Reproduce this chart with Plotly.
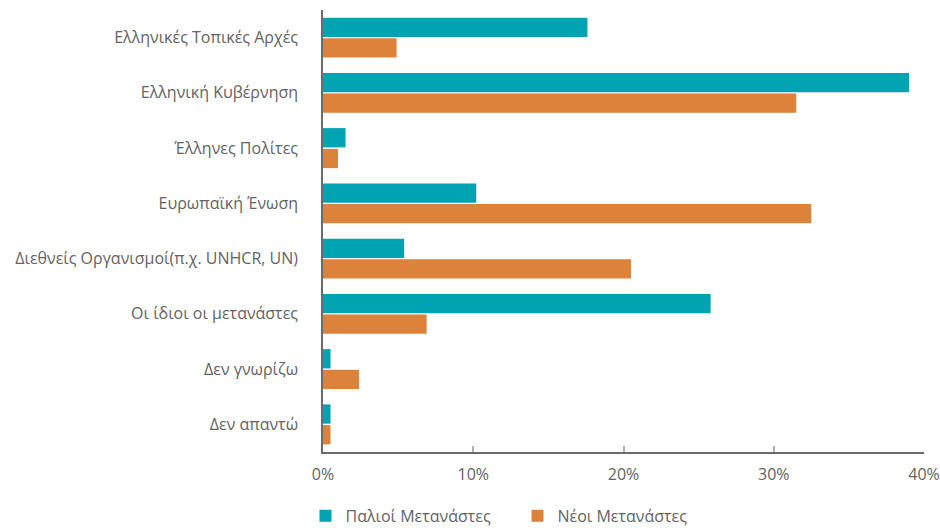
import plotly.graph_objects as go

categories = [
    "Ελληνικές Τοπικές Αρχές",
    "Ελληνική Κυβέρνηση",
    "Έλληνες Πολίτες",
    "Ευρωπαϊκή Ένωση",
    "Διεθνείς Οργανισμοί(π.χ. UNHCR, UN)",
    "Οι ίδιοι οι μετανάστες",
    "Δεν γνωρίζω",
    "Δεν απαντώ",
]
old_migrants = [17.6, 39.0, 1.5, 10.2, 5.4, 25.8, 0.5, 0.5]
new_migrants = [4.9, 31.5, 1.0, 32.5, 20.5, 6.9, 2.4, 0.5]
series_names = ["Παλιοί Μετανάστες", "Νέοι Μετανάστες"]
x_ticks = [0, 10, 20, 30, 40]
x_tick_labels = ["0%", "10%", "20%", "30%", "40%"]

TEAL = "#00A3B1"
ORANGE = "#DD823B"
TEXT = "#636363"
FONT = "Open Sans"

fig = go.Figure()
fig.add_trace(go.Bar(y=categories, x=old_migrants, name=series_names[0],
                     orientation="h", marker=dict(color=TEAL, line=dict(width=0))))
fig.add_trace(go.Bar(y=categories, x=new_migrants, name=series_names[1],
                     orientation="h", marker=dict(color=ORANGE, line=dict(width=0))))

fig.update_layout(
    width=940, height=528,
    margin=dict(l=323, r=16, t=10, b=76, autoexpand=False),
    paper_bgcolor="white", plot_bgcolor="white",
    font=dict(family=FONT, size=16, color=TEXT),
    barmode="group", bargap=0.25, bargroupgap=0.07,
    showlegend=True,
    legend=dict(orientation="h", xref="container", yref="container",
                x=0.325, y=0.055, xanchor="left", yanchor="top",
                font=dict(family=FONT, size=16, color=TEXT),
                entrywidth=167, entrywidthmode="pixels",
                traceorder="normal"),
)
fig.update_xaxes(
    range=[0, 40], tickvals=x_ticks, ticktext=x_tick_labels,
    showgrid=False, zeroline=False, automargin=False,
    showline=True, linecolor="#6b6b6b", linewidth=1.5,
    ticks="inside", ticklen=6, tickcolor="#b0b0b0", tickwidth=1.5,
    ticklabelstandoff=7,
    tickfont=dict(family=FONT, size=16, color=TEXT),
)
fig.update_yaxes(
    autorange="reversed", showgrid=False, zeroline=False, automargin=False,
    showline=True, linecolor="#6b6b6b", linewidth=1.5,
    ticks="", ticklabelstandoff=20,
    tickfont=dict(family=FONT, size=16, color=TEXT),
)

fig.write_html("out.html", config={"displayModeBar": False},
               post_script="document.body.style.margin='0';")
